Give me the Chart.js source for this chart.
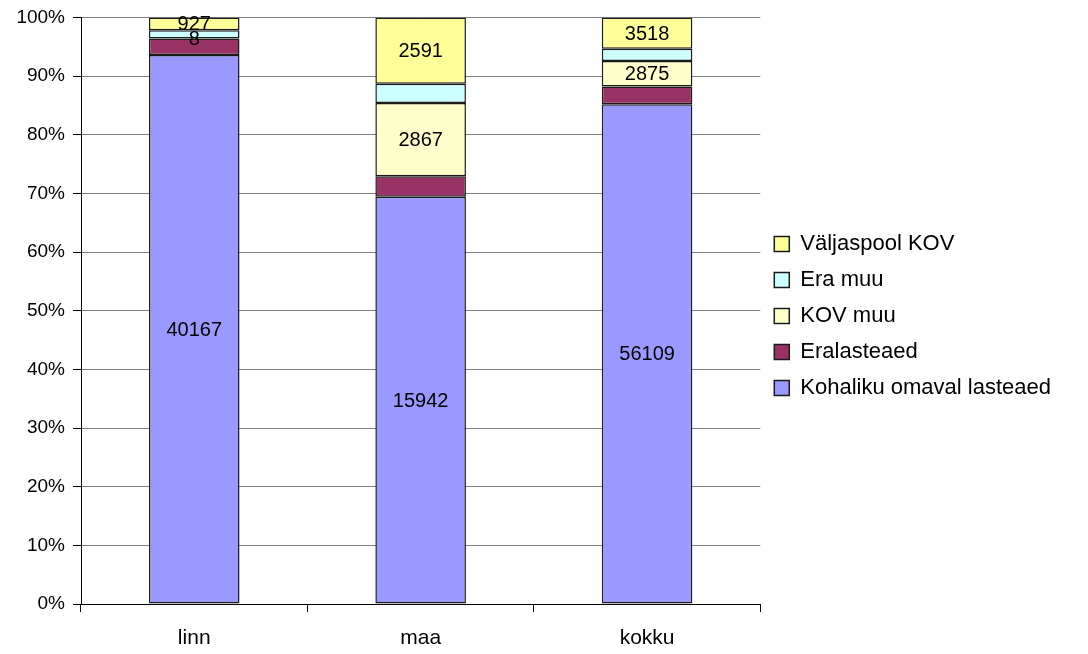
<!DOCTYPE html>
<html>
<head>
<meta charset="utf-8">
<script src="https://cdn.jsdelivr.net/npm/chart.js@4"></script>
<style>
  html, body { margin: 0; padding: 0; background: #fff; }
  #wrap { width: 1088px; height: 654px; }
</style>
</head>
<body>
<div id="wrap"><canvas id="c" width="1088" height="654"></canvas></div>
<script>
// kategooriad
const kategooriad = ["linn", "maa", "kokku"];

// lapsed vastavalt lasteaia tüübile (loetud pildilt)
const kohalikuOmaval = [40167, 15942, 56109];
const eralasteaed = [1200, 800, 2000];
const kovMuu = [8, 2867, 2875];
const eraMuu = [600, 760, 1360];
const valjaspoolKov = [927, 2591, 3518];

const yTicks = [0, 10, 20, 30, 40, 50, 60, 70, 80, 90, 100];

const seeriad = [
  { nimi: "Kohaliku omaval lasteaed", andmed: kohalikuOmaval, varv: "#9999FF", silt: true },
  { nimi: "Eralasteaed", andmed: eralasteaed, varv: "#993366", silt: false },
  { nimi: "KOV muu", andmed: kovMuu, varv: "#FFFFCC", silt: true },
  { nimi: "Era muu", andmed: eraMuu, varv: "#CCFFFF", silt: false },
  { nimi: "Väljaspool KOV", andmed: valjaspoolKov, varv: "#FFFF99", silt: true }
];

// summad iga kategooria kohta -> protsendid
const summad = kategooriad.map((k, i) => seeriad.reduce((s, sr) => s + sr.andmed[i], 0));

const FONT = "'Liberation Sans', Arial, sans-serif";

// väärtuste sildid tulpade keskele
const sildid = {
  id: "sildid",
  afterDatasetsDraw(chart) {
    const ctx = chart.ctx;
    ctx.save();
    ctx.font = "20px " + FONT;
    ctx.fillStyle = "#000";
    ctx.textAlign = "center";
    ctx.textBaseline = "middle";
    chart.data.datasets.forEach((ds, di) => {
      if (!seeriad[di].silt) return;
      chart.getDatasetMeta(di).data.forEach((bar, i) => {
        const y = (bar.y + bar.base) / 2;
        ctx.fillText(String(seeriad[di].andmed[i]), bar.x, y + 1);
      });
    });
    ctx.restore();
  }
};

new Chart(document.getElementById("c"), {
  type: "bar",
  data: {
    labels: kategooriad,
    datasets: seeriad.map(sr => ({
      label: sr.nimi,
      data: sr.andmed.map((v, i) => v / summad[i] * 100),
      backgroundColor: sr.varv,
      borderColor: "#1a1a1a",
      borderWidth: 1.5,
      borderSkipped: false,
      barPercentage: 0.4,
      categoryPercentage: 1.0
    }))
  },
  options: {
    responsive: false,
    animation: false,
    devicePixelRatio: 1,
    layout: { padding: { top: 17, right: 27, left: 0, bottom: 0 } },
    plugins: {
      tooltip: { enabled: false },
      legend: {
        position: "right",
        fullSize: false,
        reverse: true,
        maxWidth: 1000,
        // tühi pealkiri nihutab kirjeid veidi allapoole
        title: { display: true, text: "", font: { size: 2 }, padding: 4 },
        labels: {
          boxWidth: 15,
          boxHeight: 15,
          padding: 14,
          color: "#000",
          font: { family: FONT, size: 22 }
        }
      }
    },
    scales: {
      x: {
        stacked: true,
        grid: {
          offset: true,
          drawOnChartArea: false,
          drawTicks: true,
          tickLength: 8,
          color: "#000"
        },
        border: { color: "#000", width: 1 },
        ticks: {
          color: "#000",
          padding: 14,
          font: { family: FONT, size: 21 }
        },
        afterFit(s) { s.height = 50; }
      },
      y: {
        stacked: true,
        min: 0,
        max: 100,
        afterBuildTicks(s) { s.ticks = yTicks.map(v => ({ value: v })); },
        grid: {
          color: "#808080",
          tickLength: 8,
          tickColor: "#000"
        },
        border: { color: "#000", width: 1 },
        ticks: {
          color: "#000",
          padding: 8,
          font: { family: FONT, size: 19, lineHeight: 1 },
          callback: v => v + "%"
        },
        afterFit(s) { s.width = 81; }
      }
    }
  },
  plugins: [sildid]
});
</script>
</body>
</html>
